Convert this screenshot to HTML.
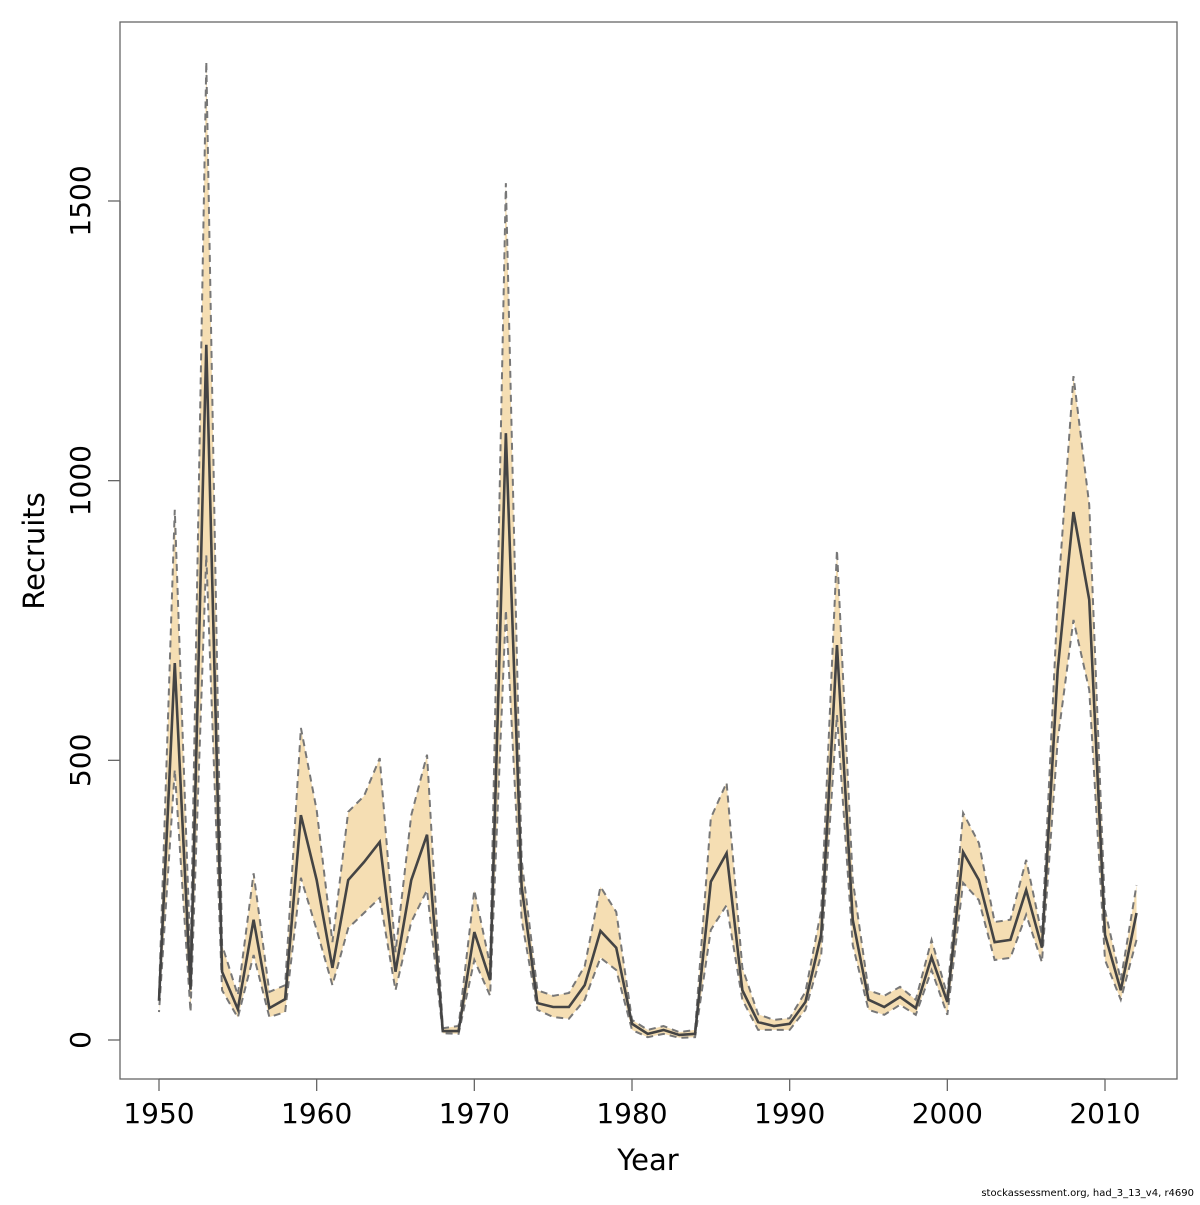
<!DOCTYPE html>
<html><head><meta charset="utf-8"><style>
body{margin:0;background:#fff}
svg text{font-family:"DejaVu Sans","Liberation Sans",sans-serif;fill:#000}
</style></head><body>
<svg id="chart" width="1200" height="1200" xmlns="http://www.w3.org/2000/svg">
<g id="bands"></g>
<g id="lines"></g>
<g id="axes"></g>
<rect x="120" y="22" width="1057" height="1057" fill="none" stroke="#666" stroke-width="1.3"/>
<text x="648" y="1170" font-size="29" text-anchor="middle">Year</text>
<text transform="translate(44,551) rotate(-90)" font-size="29" text-anchor="middle">Recruits</text>
<text x="1194" y="1196" font-size="10" text-anchor="end">stockassessment.org, had_3_13_v4, r4690</text>
</svg>
<script>
const years=[1950,1951,1952,1953,1954,1955,1956,1957,1958,1959,1960,1961,1962,1963,1964,1965,1966,1967,1968,1969,1970,1971,1972,1973,1974,1975,1976,1977,1978,1979,1980,1981,1982,1983,1984,1985,1986,1987,1988,1989,1990,1991,1992,1993,1994,1995,1996,1997,1998,1999,2000,2001,2002,2003,2004,2005,2006,2007,2008,2009,2010,2011,2012];
const recruits=[70,674,90,1243,122,55,215,57,73,402,286,129,286,318,354,122,286,367,16,16,193,107,1085,274,66,59,59,98,195,165,29,11,18,9,11,283,334,89,32,25,29,68,188,706,215,72,59,77,57,148,68,336,286,175,179,268,165,662,944,787,188,89,227];
const upper=[80,948,143,1749,170,80,298,86,98,558,411,175,408,436,504,157,402,510,21,25,268,134,1532,322,89,79,84,132,274,229,36,18,25,14,18,397,460,129,46,36,39,86,232,876,286,89,79,95,72,179,80,406,352,211,215,322,188,787,1187,957,232,107,277];
const lower=[50,483,50,867,89,40,152,41,50,290,197,98,200,227,254,89,211,268,12,11,143,79,769,215,54,41,38,72,147,125,18,5,11,4,5,197,241,72,18,18,18,54,152,581,170,54,45,63,45,125,45,281,250,143,147,224,139,536,751,626,143,72,179];
const xTicks=[1950,1960,1970,1980,1990,2000,2010];
const yTicks=[0,500,1000,1500];
const NS="http://www.w3.org/2000/svg";
const xs=y=>159+(y-1950)*(946/60);
const ys=v=>1040-v*(279.67/500);
const mk=(t,a,p)=>{const e=document.createElementNS(NS,t);for(const k in a)e.setAttribute(k,a[k]);p.appendChild(e);return e;};
const bands=document.getElementById('bands'),lines=document.getElementById('lines'),axes=document.getElementById('axes');
const up=years.map((y,i)=>xs(y)+','+ys(upper[i]));
const lo=years.map((y,i)=>xs(y)+','+ys(lower[i])).reverse();
const poly=mk('polygon',{points:up.concat(lo).join(' '),fill:'#f5deb3',stroke:'none'},bands);


const ul=mk('polyline',{points:up.join(' '),fill:'none',stroke:'#777','stroke-width':2,'stroke-dasharray':'7,5'},lines);


const ll=mk('polyline',{points:lo.join(' '),fill:'none',stroke:'#777','stroke-width':2,'stroke-dasharray':'7,5'},lines);


const ml=mk('polyline',{points:years.map((y,i)=>xs(y)+','+ys(recruits[i])).join(' '),fill:'none',stroke:'#444','stroke-width':2.6},lines);


const xl=mk('line',{x1:xs(xTicks[0]),x2:xs(xTicks[xTicks.length-1]),y1:1079,y2:1079,stroke:'#666','stroke-width':1.3},axes);


xTicks.forEach(t=>{
 const l=mk('line',{x1:xs(t),x2:xs(t),y1:1079,y2:1091,stroke:'#666','stroke-width':1.3},axes);
 
 
 const tx=mk('text',{x:xs(t),y:1123,'font-size':28,'text-anchor':'middle'},axes);
 tx.textContent=t;
 
 
});
const yl=mk('line',{x1:120,x2:120,y1:ys(yTicks[0]),y2:ys(yTicks[yTicks.length-1]),stroke:'#666','stroke-width':1.3},axes);


yTicks.forEach(t=>{
 const l=mk('line',{x1:108,x2:120,y1:ys(t),y2:ys(t),stroke:'#666','stroke-width':1.3},axes);
 
 
 const tx=mk('text',{transform:'translate(90,'+ys(t)+') rotate(-90)','font-size':28,'text-anchor':'middle'},axes);
 tx.textContent=t;
 
 
});
</script>
</body></html>
